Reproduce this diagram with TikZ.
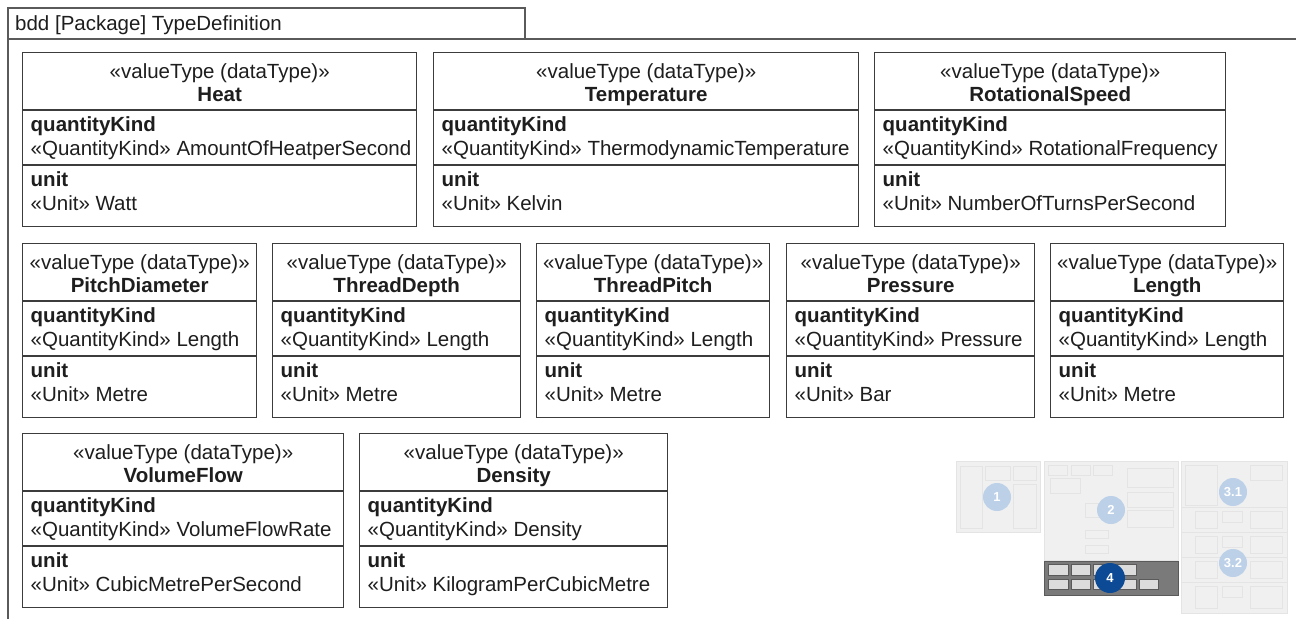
\documentclass[tikz,border=0pt]{standalone}
\usepackage{fontspec}
\setmainfont{Liberation Sans}
\usetikzlibrary{calc}

\definecolor{edge}{HTML}{3C3C3C}
\definecolor{frameline}{HTML}{5A5A5A}
\definecolor{ink}{HTML}{1E1E1E}
\definecolor{mapfill}{HTML}{F0F0F0}
\definecolor{mapline}{HTML}{E4E4E4}
\definecolor{mapdot}{HTML}{BCD0E8}
\definecolor{activefill}{HTML}{7A7A7A}
\definecolor{activebox}{HTML}{DCDCDC}
\definecolor{activedot}{HTML}{0C4A96}

\tikzset{
  vtframe/.style={draw=edge, line width=1.4pt, fill=white, inner sep=0pt,
    anchor=north west, minimum height=174pt},
  vtrule/.style={draw=edge, line width=1.4pt},
  lbl/.style={inner sep=0pt, text=ink, font=\fontsize{20.5}{23.4}\selectfont},
  lblbold/.style={lbl, font=\fontsize{20.5}{23.4}\selectfont\bfseries},
  frame/.style={draw=frameline, line width=1.3pt},
  mappanel/.style={fill=mapfill, draw=mapline, line width=0.6pt},
  mapitem/.style={draw=mapline, line width=0.8pt},
  mapmark/.style={circle, fill=mapdot, minimum size=28pt, inner sep=0pt,
    text=white, font=\fontsize{13}{15}\selectfont\bfseries},
  activepanel/.style={fill=activefill, draw=frameline, line width=1pt},
  activeitem/.style={fill=activebox, draw=frameline, line width=0.8pt},
  activemark/.style={circle, fill=activedot, minimum size=30pt, inner sep=0pt,
    text=white, font=\fontsize{13}{15}\selectfont\bfseries},
}

% #1 id, #2 left, #3 top, #4 width, #5 name, #6 quantity kind, #7 unit
\newcommand{\valuetypebox}[7]{%
  \node[vtframe, minimum width=#4pt] (#1) at (#2,#3) {};
  \draw[vtrule] ($(#1.north west)+(0,58)$) -- ($(#1.north east)+(0,58)$);
  \draw[vtrule] ($(#1.north west)+(0,113)$) -- ($(#1.north east)+(0,113)$);
  \node[lbl, anchor=base] (#1-st) at ($(#1.north)+(0,26.3)$) {«valueType (dataType)»};
  \node[lblbold, anchor=base] (#1-nm) at ($(#1.north)+(0,49.7)$) {#5};
  \node[lblbold, anchor=base west] (#1-qk) at ($(#1.north west)+(8.5,79.7)$) {quantityKind};
  \node[lbl, anchor=base west] (#1-qv) at ($(#1.north west)+(8.5,103)$) {«QuantityKind» #6};
  \node[lblbold, anchor=base west] (#1-un) at ($(#1.north west)+(8.5,134.7)$) {unit};
  \node[lbl, anchor=base west] (#1-uv) at ($(#1.north west)+(8.5,158)$) {«Unit» #7};
}

\begin{document}
\begin{tikzpicture}[x=1pt, y=-1pt]
\useasboundingbox (0,0) rectangle (1296,619);

% diagram frame and its name tab
\coordinate (tabnw) at (8,8);
\coordinate (tabse) at (525,39);
\coordinate (headend) at (1296,39);
\coordinate (framebottom) at (8,619);
\draw[frame] (tabnw) rectangle (tabse);
\draw[frame] (tabnw |- tabse) -- (headend);
\draw[frame] (tabnw) -- (framebottom);
\node[lbl, anchor=base west] (title) at (15,30) {bdd [Package] TypeDefinition};

% value types, first row
\valuetypebox{heat}{22}{52}{394}{Heat}{AmountOfHeatperSecond}{Watt}
\valuetypebox{temp}{433}{52}{425}{Temperature}{ThermodynamicTemperature}{Kelvin}
\valuetypebox{rot}{874}{52}{351}{RotationalSpeed}{RotationalFrequency}{NumberOfTurnsPerSecond}

% second row
\valuetypebox{pitchd}{22}{243}{234}{PitchDiameter}{Length}{Metre}
\valuetypebox{depth}{272}{243}{248}{ThreadDepth}{Length}{Metre}
\valuetypebox{pitch}{536}{243}{233}{ThreadPitch}{Length}{Metre}
\valuetypebox{press}{786}{243}{248}{Pressure}{Pressure}{Bar}
\valuetypebox{len}{1050}{243}{233}{Length}{Length}{Metre}

% third row
\valuetypebox{flow}{22}{433}{321}{VolumeFlow}{VolumeFlowRate}{CubicMetrePerSecond}
\valuetypebox{dens}{359}{433}{308}{Density}{Density}{KilogramPerCubicMetre}

% overview map: panel 1
\draw[mappanel] (956,461) rectangle (1040,532);
\draw[mapitem] (960,466) rectangle (982,528);
\draw[mapitem] (985,466) rectangle (1010,480);
\draw[mapitem] (1013,466) rectangle (1036,480);
\draw[mapitem] (1013,484) rectangle (1036,528);
\node[mapmark] (m1) at (997,497) {1};

% panel 2
\draw[mappanel] (1044,461) rectangle (1178,560);
\draw[mapitem] (1048,465) rectangle (1067,475);
\draw[mapitem] (1071,465) rectangle (1090,475);
\draw[mapitem] (1093,465) rectangle (1112,475);
\draw[mapitem] (1050,478) rectangle (1080,493);
\draw[mapitem] (1127,468) rectangle (1173,487);
\draw[mapitem] (1127,492) rectangle (1173,507);
\draw[mapitem] (1127,510) rectangle (1173,527);
\draw[mapitem] (1085,503) rectangle (1108,517);
\draw[mapitem] (1085,530) rectangle (1108,538);
\draw[mapitem] (1085,545) rectangle (1108,553);
\node[mapmark] (m2) at (1111,510) {2};

% panel 3
\draw[mappanel] (1181,461) rectangle (1287,613);
\draw[mapitem] (1185,465) rectangle (1217,505);
\draw[mapitem] (1250,465) rectangle (1282,480);
\draw[mapitem] (1181,507) -- (1287,507);
\draw[mapitem] (1181,532) -- (1287,532);
\draw[mapitem] (1181,557) -- (1287,557);
\draw[mapitem] (1181,582) -- (1287,582);
\draw[mapitem] (1195,511) rectangle (1217,528);
\draw[mapitem] (1222,511) rectangle (1242,522);
\draw[mapitem] (1250,511) rectangle (1282,528);
\draw[mapitem] (1195,536) rectangle (1217,553);
\draw[mapitem] (1222,536) rectangle (1242,547);
\draw[mapitem] (1250,536) rectangle (1282,553);
\draw[mapitem] (1195,561) rectangle (1217,578);
\draw[mapitem] (1250,561) rectangle (1282,578);
\draw[mapitem] (1195,586) rectangle (1217,608);
\draw[mapitem] (1222,586) rectangle (1242,597);
\draw[mapitem] (1250,586) rectangle (1282,608);
\node[mapmark] (m31) at (1233,492) {3.1};
\node[mapmark] (m32) at (1233,563) {3.2};

% panel 4, the current view
\draw[activepanel] (1044,561) rectangle (1178,595);
\foreach \xa/\xb in {1048/1068, 1071/1090, 1093/1113, 1116/1136} {
  \draw[activeitem] (\xa,564) rectangle (\xb,575);
}
\foreach \xa/\xb in {1048/1068, 1071/1090, 1093/1113, 1116/1136, 1139/1158} {
  \draw[activeitem] (\xa,579) rectangle (\xb,589);
}
\node[activemark] (m4) at (1110,578) {4};

\end{tikzpicture}
\end{document}
